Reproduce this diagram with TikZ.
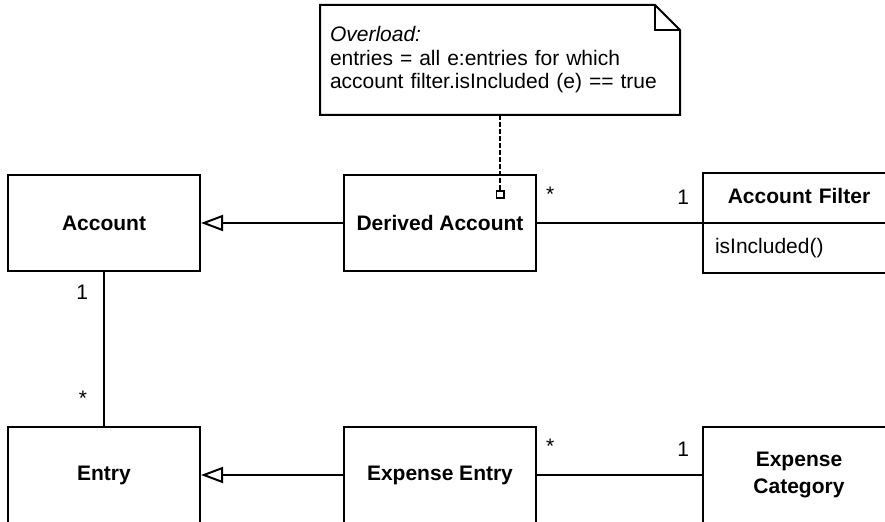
\documentclass[tikz,border=0pt]{standalone}
\usepackage{fontspec}
\setmainfont{Liberation Sans}
\usetikzlibrary{positioning,shapes.multipart,arrows.meta}

\begin{document}
\begin{tikzpicture}[x=0.5pt,y=-0.5pt,
					line width=1pt,
					font=\fontsize{10.5pt}{13.5pt}\selectfont,
					class/.style={draw,rectangle,minimum width=96pt,minimum height=48pt,
					              align=center,font=\fontsize{10.5pt}{13.5pt}\selectfont\bfseries},
					split class/.style={draw,rectangle split,rectangle split parts=2,
					              text width=84pt,inner xsep=6pt,inner ysep=5.25pt,align=left},
					mult start/.style={above right,inner xsep=4pt,inner ysep=10pt},
					mult end/.style={above left,inner xsep=6pt,inner ysep=8.5pt},
					gen/.style={-{Triangle[open,length=11pt,width=8pt]}},
					note/.style={align=left,text width=170pt,inner xsep=5pt,outer sep=0pt,
					              minimum height=55pt,font=\fontsize{10.5pt}{11.75pt}\selectfont},
					note link/.style={line width=0.9pt,dash pattern=on 2.5pt off 1pt,
					              -{Square[open,length=4.5pt,width=4.5pt,line width=0.9pt]}}]

  \useasboundingbox (0,0) rectangle (885,522);

  \node[class] (A) at (104,223) {Account};
  \node[class] (DA) [right=71pt of A] {Derived Account};
  \node[split class] (AF) [right=82.5pt of DA]
    {\strut\makebox[84pt]{\textbf{Account Filter}}\nodepart{two}\strut isIncluded()};
  \node[class] (E) [below=77pt of A] {Entry};
  \node[class] (EE) [right=71pt of E] {Expense Entry};
  \node[class] (EC) [right=82.5pt of EE] {Expense\\Category};

  % note with folded corner
  \node[note] (N) at (500,60)
    {\textit{Overload:}\\entries = all e:entries for which\\account filter.isIncluded (e) == true};
  \draw (N.north west) -- ([xshift=-12.5pt]N.north east) -- ([yshift=-12.5pt]N.north east)
        -- (N.south east) -- (N.south west) -- cycle;
  \draw ([xshift=-12.5pt]N.north east) |- ([yshift=-12.5pt]N.north east);
  \coordinate (DAnote) at ([xshift=30pt,yshift=-12.5pt]DA.north);

  \path (DA) edge[gen] (A)
        (DA) edge node[mult start,pos=0] {*} node[mult end,pos=1] {1} (AF)
        (A) edge node[pos=0,below left,inner xsep=7.5pt,inner ysep=6pt] {1}
                 node[pos=1,above left,inner xsep=8pt,inner ysep=9.5pt] {*} (E)
        (EE) edge[gen] (E)
        (EE) edge node[mult start,pos=0] {*} node[mult end,pos=1] {1} (EC);
  \draw[note link] (N) -- (DAnote);
\end{tikzpicture}
\end{document}
